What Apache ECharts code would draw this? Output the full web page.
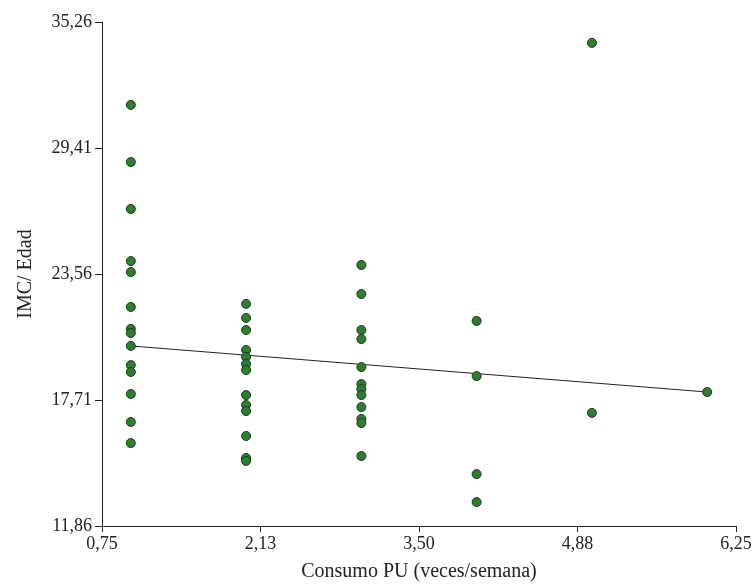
<!DOCTYPE html>
<html>
<head>
<meta charset="utf-8">
<script src="https://cdn.jsdelivr.net/npm/echarts@6/dist/echarts.min.js"></script>
<style>
  html, body { margin: 0; padding: 0; background: #fff; }
  #chart { width: 755px; height: 587px; }
</style>
</head>
<body>
<div id="chart"></div>
<script>
  // consumo PU (veces/semana) groups
  var xGroups = [1, 2, 3, 4, 5, 6];
  // IMC/Edad values read per group
  var yGroup1 = [31.41, 28.76, 26.58, 24.16, 23.65, 22.03, 21.01, 20.82, 20.22, 19.33, 19.01, 17.99, 16.69, 15.71];
  var yGroup2 = [22.17, 21.52, 20.96, 20.03, 19.71, 19.38, 19.10, 17.94, 17.48, 17.20, 16.04, 15.02, 14.88];
  var yGroup3 = [23.98, 22.63, 20.96, 20.54, 19.24, 18.45, 18.22, 17.94, 17.38, 16.83, 16.64, 15.11];
  var yGroup4 = [21.38, 18.82, 14.27, 12.97];
  var yGroup5 = [34.29, 17.11];
  var yGroup6 = [18.08];

  // fitted line ends
  var trendX = [1, 6];
  var trendY = [20.22, 18.08];

  var xTicks = [0.75, 2.125, 3.5, 4.875, 6.25];
  var yTicks = [11.86, 17.71, 23.56, 29.41, 35.26];

  var groups = [yGroup1, yGroup2, yGroup3, yGroup4, yGroup5, yGroup6];
  var points = [];
  groups.forEach(function (ys, i) {
    ys.forEach(function (y) { points.push([xGroups[i], y]); });
  });
  var trend = trendX.map(function (x, i) { return [x, trendY[i]]; });

  function comma(v) {
    return Number(v).toFixed(2).replace('.', ',');
  }

  var font = '"Liberation Serif", "DejaVu Serif", serif';
  var chart = echarts.init(document.getElementById('chart'));
  chart.setOption({
    backgroundColor: '#fff',
    animation: false,
    grid: { left: 102, right: 19, top: 22, bottom: 61 },
    xAxis: {
      type: 'value',
      min: 0.75,
      max: 6.25,
      name: 'Consumo PU (veces/semana)',
      nameLocation: 'middle',
      nameGap: 36,
      nameTextStyle: { fontFamily: font, fontSize: 20, color: '#222' },
      axisLine: { lineStyle: { color: '#222', width: 1 } },
      axisTick: { show: true, length: 6, customValues: xTicks, lineStyle: { color: '#222' } },
      axisLabel: {
        customValues: xTicks,
        formatter: comma,
        margin: 9,
        fontFamily: font, fontSize: 18, color: '#222'
      },
      splitLine: { show: false }
    },
    yAxis: {
      type: 'value',
      min: 11.86,
      max: 35.26,
      name: 'IMC/ Edad',
      nameLocation: 'middle',
      nameGap: 66,
      nameTextStyle: { fontFamily: font, fontSize: 20, color: '#222' },
      axisLine: { show: true, lineStyle: { color: '#222', width: 1 } },
      axisTick: { show: true, length: 7, customValues: yTicks, lineStyle: { color: '#222' } },
      axisLabel: {
        customValues: yTicks,
        formatter: comma,
        margin: 10,
        fontFamily: font, fontSize: 18, color: '#222'
      },
      splitLine: { show: false }
    },
    series: [{
      type: 'line',
      data: trend,
      symbol: 'none',
      lineStyle: { color: '#222', width: 1 },
      z: 1
    }, {
      type: 'scatter',
      data: points,
      symbolSize: 9,
      itemStyle: { color: '#2f7d32', borderColor: '#1a3a1a', borderWidth: 1, opacity: 1 },
      z: 2
    }]
  });
</script>
</body>
</html>
